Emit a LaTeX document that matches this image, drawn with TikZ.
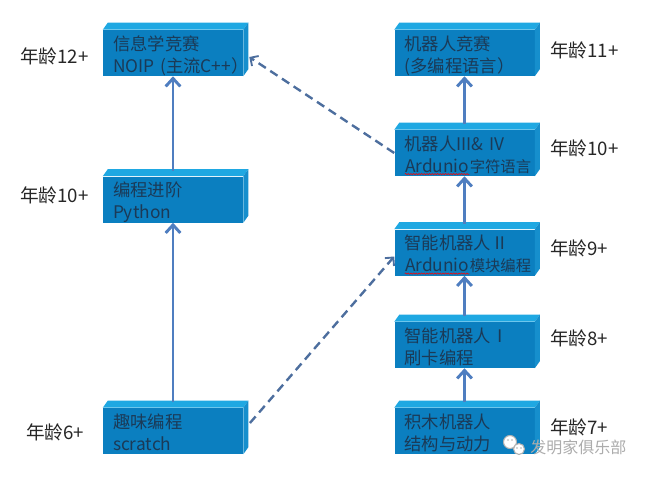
\documentclass[tikz,border=0pt]{standalone}
\usepackage{fontspec}
\setmainfont{Noto Sans CJK SC}
\usetikzlibrary{arrows.meta,decorations.pathmorphing}
\definecolor{boxfront}{HTML}{0B7FC0}
\definecolor{boxtop}{HTML}{1FA8E2}
\definecolor{boxside}{HTML}{168FCD}
\definecolor{boxtext}{HTML}{1B3A57}
\definecolor{arrowblue}{HTML}{4F7EC0}
\definecolor{dashblue}{HTML}{4D6E9E}
\newcommand{\spellerr}[1]{\tikz[baseline=(w.base)]{\node[inner sep=0pt,text width={},minimum width=0pt,minimum height=0pt,text depth={},text=boxtext] (w) {#1};
 \draw[red,line width=0.4pt,decorate,decoration={snake,amplitude=0.5pt,segment length=2pt}] ([yshift=-1pt]w.south west) -- ([yshift=-1pt]w.south east);}}
\newcommand{\smallcjk}[1]{{\fontsize{11.5}{16.5}\selectfont #1}}
\begin{document}
\begin{tikzpicture}[x=0.75pt,y=-0.75pt,
 box/.style={fill=boxfront,minimum width=105pt,minimum height=34.5pt,text width=90pt,text depth=15pt,inner xsep=7.5pt,inner ysep=0pt,align=left,text=boxtext,font=\fontsize{13}{16.5}\selectfont},
 age/.style={inner sep=0pt,anchor=west,text=black!85,font=\fontsize{14}{16}\selectfont},
 solid/.style={draw=arrowblue,line width=2.2pt,-{Straight Barb[length=6pt,width=11pt]}},
 dashline/.style={draw=dashblue,line width=1.8pt,dash pattern=on 6.5pt off 4pt,-{Straight Barb[length=4.5pt,width=9pt,line width=1.4pt]}}]
 \useasboundingbox (0,0) rectangle (650,476);
 % boxes
 \node[box] (noip) at (173,53) {信息学竞赛\\NOIP~(主流C++）};
 \node[box] (python) at (173,199.5) {编程进阶\\Python};
 \node[box] (scratch) at (173,431) {趣味编程\\scratch};
 \node[box] (contest) at (464.5,53) {机器人竞赛\\(多编程语言）};
 \node[box] (ard) at (464.5,153) {机器人III\&~IV\\\spellerr{Ardunio}\smallcjk{字符语言}};
 \node[box] (robotb) at (464.5,252.5) {智能机器人Ⅱ\\\spellerr{Ardunio}\smallcjk{模块编程}};
 \node[box] (robota) at (464.5,345) {智能机器人Ⅰ\\刷卡编程};
 \node[box] (blocks) at (464.5,431) {积木机器人\\结构与动力};
 \foreach \b in {noip,python,scratch,contest,ard,robotb,robota,blocks}{
  \fill[boxtop] (\b.north west) -- ++(5,-7) -- ([shift={(5,-7)}]\b.north east) -- (\b.north east) -- cycle;
  \fill[boxside] (\b.north east) -- ++(5,-7) -- ([shift={(5,-7)}]\b.south east) -- (\b.south east) -- cycle;
 }
 % ages
 \node[age] (age12) at (20,56) {年龄12+};
 \node[age] (age10a) at (20,195) {年龄10+};
 \node[age] (age6) at (26,432) {年龄6+};
 \node[age] (age11) at (550,50) {年龄11+};
 \node[age] (age10b) at (550,148) {年龄10+};
 \node[age] (age9) at (550,248) {年龄9+};
 \node[age] (age8) at (550,338) {年龄8+};
 \node[age] (age7) at (550,427) {年龄7+};
 % arrows
 \draw[solid] ([yshift=4pt]python.north) -- (noip.south);
 \draw[solid] ([yshift=4pt]scratch.north) -- (python.south);
 \draw[solid] ([yshift=4pt]ard.north) -- (contest.south);
 \draw[solid] ([yshift=4pt]robotb.north) -- (ard.south);
 \draw[solid] ([yshift=4pt]robota.north) -- (robotb.south);
 \draw[solid] ([yshift=4pt]blocks.north) -- (robota.south);
 \draw[dashline] (ard.west) -- ([xshift=4.5pt,yshift=-3pt]noip.east);
 \draw[dashline] ([xshift=5pt,yshift=6pt]scratch.east) -- ([yshift=-3pt]robotb.west);
 % watermark
 \filldraw[fill=white,draw=gray!60,line width=0.8pt] (510,442) circle (6.5);
 \filldraw[fill=white,draw=gray!60,line width=0.8pt] (519,449) circle (5.5);
 \fill[gray!60] (508,440) circle (0.9) (512,440) circle (0.9) (517,448) circle (0.8) (521,448) circle (0.8);
 \node[inner sep=0pt,anchor=west,text=gray!65,font=\fontsize{12}{14}\selectfont] (mark) at (530,447) {发明家俱乐部};
\end{tikzpicture}
\end{document}
